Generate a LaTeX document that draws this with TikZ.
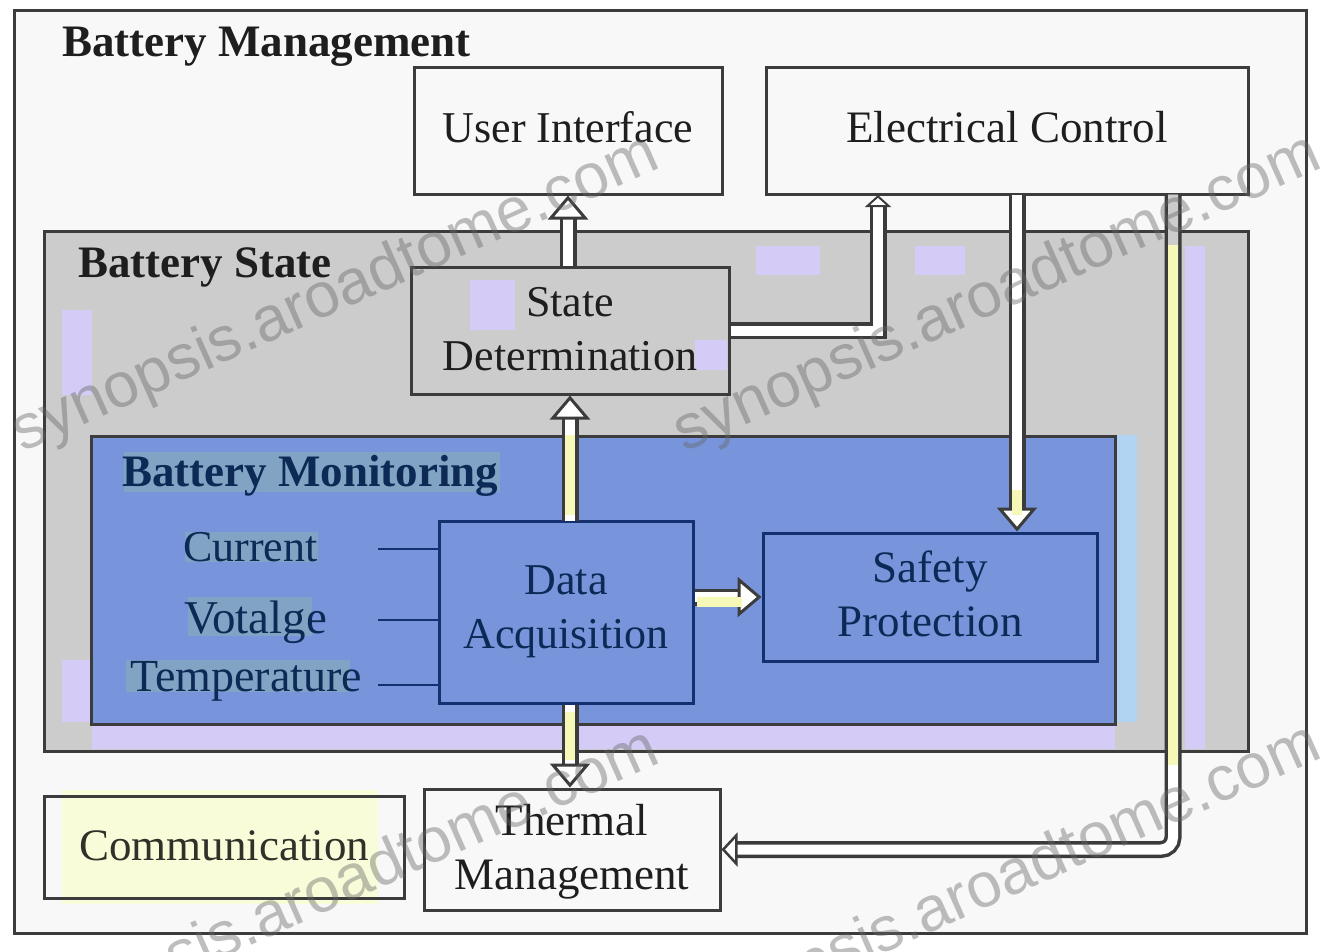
\documentclass[tikz,border=0pt]{standalone}
\usepackage{fontspec}
\setmainfont{Liberation Serif}
\newfontfamily\wmfont{Liberation Sans}
\usetikzlibrary{arrows.meta,calc}
\definecolor{pagebg}{HTML}{F8F8F8}
\definecolor{stategrey}{HTML}{CCCCCC}
\definecolor{monblue}{HTML}{7895DC}
\definecolor{commyellow}{HTML}{F8FCD8}
\definecolor{lav}{HTML}{D4CCF6}
\definecolor{skyb}{HTML}{B0D4F2}
\definecolor{teal}{HTML}{82A4C4}
\definecolor{edge}{HTML}{3C3C3C}
\definecolor{navy}{HTML}{14306E}
\definecolor{ink}{HTML}{1E1E1E}
\definecolor{inknavy}{HTML}{0C2A55}
\definecolor{pale}{HTML}{F6F8B8}
\newcommand\lift[1]{\rule[-#1pt]{0pt}{#1pt}}
\tikzset{
  x=1pt,y=-1pt,
  boxn/.style={draw=edge,line width=3pt,minimum width=#1,inner sep=0pt,align=center,
    font=\fontsize{44}{54}\selectfont,text=ink},
  bigger/.style={font=\fontsize{45}{54}\selectfont},
  tbox/.style={anchor=north west},
  heading/.style={anchor=west,inner sep=0pt,font=\fontsize{45}{50}\bfseries\selectfont,text=ink},
  sigtext/.style={anchor=west,inner sep=0pt,text=inknavy},
  blockarrow/.style={draw=edge,line width=3.5pt,double=white,double distance=10pt,
    -{Triangle[open,fill=white,length=24pt,width=40pt,line width=3pt]}},
  smallhead/.style={draw=edge,line width=3.5pt,double=white,double distance=10pt,
    -{Triangle[open,fill=white,length=12pt,width=26pt,line width=2pt]}},
  midhead/.style={draw=edge,line width=3.5pt,double=white,double distance=10pt,
    -{Triangle[open,fill=white,length=16pt,width=34pt,line width=2.5pt]}},
  wire/.style={draw=navy,line width=2.5pt},
  wm/.style={inner sep=0pt,rotate=24,text=black!60,opacity=.42,
    font=\wmfont\fontsize{63}{63}\selectfont}
}
\begin{document}
\begin{tikzpicture}
\useasboundingbox (0,0) rectangle (1323,951);
\fill[white] (0,0) rectangle (1323,951);
% outer frame
\node[draw=edge,line width=3.5pt,fill=pagebg,minimum width=1292pt,minimum height=923pt,inner sep=0pt,anchor=north west] (mgmt) at (12.5,8.5) {};
\node[heading] (mgmtT) at (62,47) {Battery Management};
% battery state
\node[draw=edge,line width=3.5pt,fill=stategrey,minimum width=1204pt,minimum height=520pt,inner sep=0pt,anchor=north west] (state) at (42.5,229.5) {};
\fill[lav] (62,310) rectangle (92,395);
\fill[lav] (62,660) rectangle (92,722);
\fill[lav] (92,724) rectangle (1115,749);
\fill[lav] (756,246) rectangle (820,275);
\fill[lav] (915,246) rectangle (965,275);
\fill[lav] (1185,246) rectangle (1205,749);
\fill[lav] (470,280) rectangle (515,330);
\fill[lav] (695,340) rectangle (727,370);
\fill[skyb] (1115,435) rectangle (1137,722);
\node[heading] (stateT) at (78,267) {Battery State};
% battery monitoring
\node[draw=edge,line width=3.5pt,fill=monblue,minimum width=1024pt,minimum height=288pt,inner sep=0pt,anchor=north west] (mon) at (89.5,434.5) {};
\fill[teal] (124,452) rectangle (500,492);
\fill[teal] (185,532) rectangle (318,562);
\fill[teal] (188,597) rectangle (312,636);
\fill[teal] (126,660) rectangle (350,692);
\node[heading,text=inknavy] (monT) at (122,476) {Battery Monitoring};
% boxes
\fill[commyellow] (62,790) rectangle (378,904);
\node[boxn=308pt,minimum height=127pt,tbox,fill=pagebg] (ui) at (412.5,65.5) {User Interface\lift{7}};
\node[boxn=482pt,minimum height=127pt,tbox,fill=pagebg,bigger] (ec) at (764.5,65.5) {Electrical Control\lift{7}};
\node[boxn=318pt,minimum height=127pt,tbox] (sd) at (409.5,265.5) {State\\Determination\lift{4}};
\node[boxn=254pt,minimum height=182pt,tbox,draw=navy,text=inknavy,fill=monblue] (da) at (437.5,519.5) {Data\\Acquisition};
\node[boxn=334pt,minimum height=128pt,tbox,draw=navy,text=inknavy,fill=monblue,bigger] (sp) at (761.5,531.5) {Safety\\Protection\lift{6}};
\node[boxn=360pt,minimum height=102pt,tbox,text=black!85!olive,bigger] (comm) at (42.5,794.5) {Communication\lift{2}};
\node[boxn=296pt,minimum height=121pt,tbox,fill=pagebg,bigger] (tm) at (422.5,787.5) {\rule{0pt}{35pt}Thermal\\Management};
% signal labels
\node[sigtext,font=\fontsize{44}{50}\selectfont] (cur) at (183,547) {Current};
\node[sigtext,font=\fontsize{47}{50}\selectfont] (vol) at (184,622) {Votalge};
\node[sigtext,font=\fontsize{46}{50}\selectfont] (tem) at (130,681) {Temperature};
\coordinate (curE) at (378,549);
\coordinate (volE) at (378,620);
\coordinate (temE) at (378,685);
\draw[wire] (curE) -- (curE -| da.west);
\draw[wire] (volE) -- (volE -| da.west);
\draw[wire] (temE) -- (temE -| da.west);
% block arrows
\coordinate (ecA) at (878,195);
\coordinate (ecB) at (1017,194.5);
\coordinate (ecC) at (1173,194.5);
\coordinate (daX) at (570,521);
\draw[blockarrow] (sd.north -| ui.south) -- (ui.south);
\draw[smallhead] (sd.east) -- (sd.east -| ecA) -- (ecA);
\draw[blockarrow] (ecB) -- (ecB |- sp.north);
\draw[midhead,rounded corners=12pt] (ecC) -- (ecC |- tm.east) -- (tm.east);
\draw[blockarrow] (daX) -- (daX |- sd.south);
\draw[blockarrow] (da.east |- sp.west) -- (sp.west);
\draw[blockarrow] (daX |- da.south) -- (daX |- tm.north);
% tinted arrow bodies
\fill[black!20] (1168,195) rectangle (1178,245);
\fill[pale] (1168,245) rectangle (1178,765);
\fill[pale] (1012,490) rectangle (1022,515);
\fill[pale] (565,712) rectangle (575,760);
\fill[pale] (565,435) rectangle (575,515);
\fill[pale] (697,597) rectangle (742,607);
% watermark
\begin{scope}
\clip (0,0) rectangle (1323,951);
\node[wm] (w1) at (336,295) {synopsis.aroadtome.com};
\node[wm] (w2) at (998,295) {synopsis.aroadtome.com};
\node[wm] (w3) at (336,890) {synopsis.aroadtome.com};
\node[wm] (w4) at (998,885) {synopsis.aroadtome.com};
\end{scope}
\end{tikzpicture}
\end{document}
